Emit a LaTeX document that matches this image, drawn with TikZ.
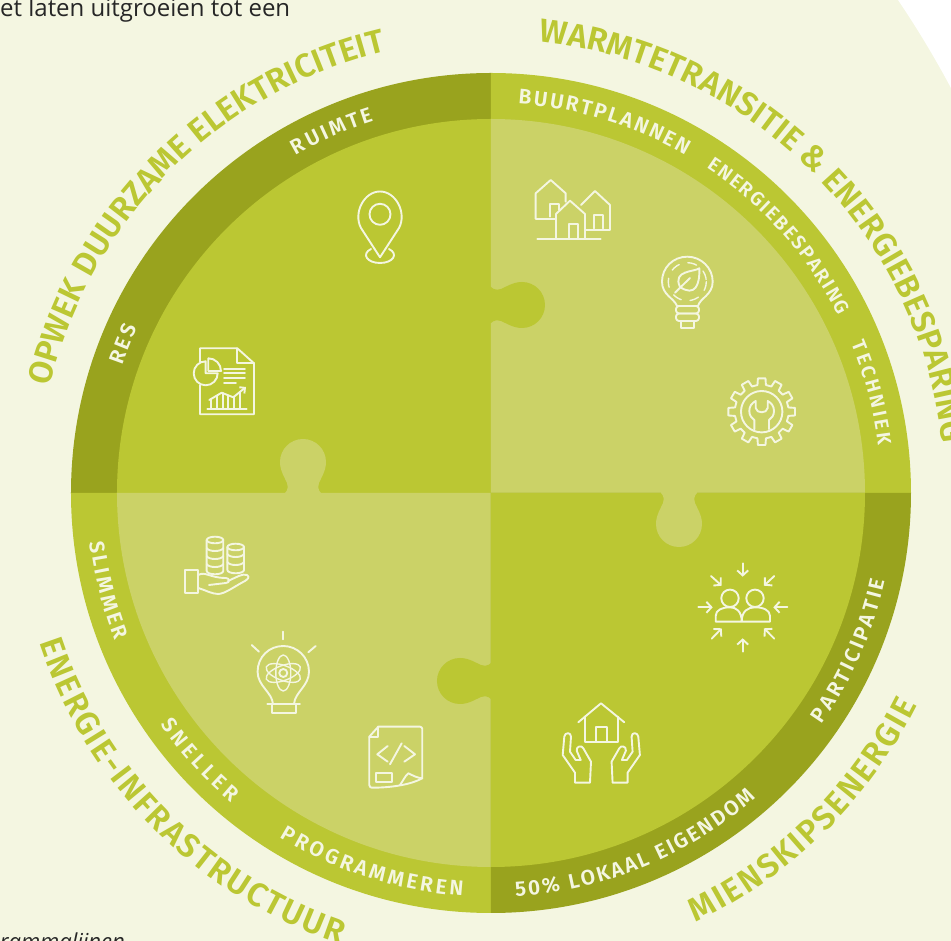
\documentclass[tikz,border=0pt]{standalone}
\usepackage{fontspec}
\usetikzlibrary{arrows.meta,decorations.text}
\setmainfont{Open Sans}
\newfontfamily\dinfont[BoldFont={Fira Sans SemiBold}]{Fira Sans}
\definecolor{pagegreen}{HTML}{F4F6E1}
\definecolor{ringdark}{HTML}{99A31E}
\definecolor{bright}{HTML}{BBC733}
\definecolor{pale}{HTML}{CBD267}
\newcommand{\titlefont}{\dinfont\bfseries\fontsize{33}{33}\selectfont\color{bright}}
\newcommand{\ringfont}{\dinfont\bfseries\fontsize{21}{21}\selectfont\color{pagegreen}}
\newcommand{\smallringfont}{\dinfont\bfseries\fontsize{19.5}{19.5}\selectfont\color{pagegreen}}
\tikzset{
  curved title/.style={decorate,decoration={text along path,text align=fit to path,text={|\titlefont|#1}}},
  curved label/.style={decorate,decoration={text along path,text align=fit to path,text={|\ringfont|#1}}},
  curved small label/.style={decorate,decoration={text along path,text align=fit to path,text={|\smallringfont|#1}}},
  icon/.style={draw=pagegreen,line width=1.9pt,line join=round,line cap=round},
  arrowicon/.style={icon,-{Straight Barb[length=5pt,width=11pt,line width=1.9pt]}},
  pics/knob/.style={code={
    \fill[#1] (-1,18) -- (0,18) .. controls (3,15) and (6,15) .. (10,16)
      .. controls (15,18) and (22,23) .. (31,23) arc[start angle=90,end angle=-90,radius=23]
      .. controls (22,-23) and (15,-18) .. (10,-16) .. controls (6,-15) and (3,-15) .. (0,-18) -- (-1,-18) -- cycle;
  }}
}
\begin{document}
\begin{tikzpicture}[x=1pt,y=1pt]
    \useasboundingbox (-491,-448) rectangle (460,493);
    \clip (-491,-448) rectangle (460,493);
    \fill[pagegreen] (-491,-448) rectangle (460,493);
    \fill[white] (407,493) .. controls (426,465) and (444,435) .. (460,405) -- (460,493) -- cycle;

    \foreach \start/\ringcol/\innercol in {90/ringdark/bright,0/bright/pale,180/bright/pale,270/ringdark/bright}{
        \fill[\ringcol] (0,0) -- (\start:420) arc[start angle=\start,delta angle=90,radius=420] -- cycle;
        \fill[\innercol] (0,0) -- (\start:374) arc[start angle=\start,delta angle=90,radius=374] -- cycle;
    }
    \pic at (0,188) {knob=bright};
    \pic[rotate=90] at (-188,0) {knob=pale};
    \pic[rotate=180] at (0,-188) {knob=bright};
    \pic[rotate=-90] at (188,0) {knob=pale};

    \path[curved title={OPWEK DUURZAME ELEKTRICITEIT}] (166.5:454) arc[start angle=166.5,end angle=104,radius=454];
    \path[curved title={WARMTETRANSITIE {\&} ENERGIEBESPARING}] (84:454) arc[start angle=84,end angle=7,radius=454];
    \path[curved title={ENERGIE-INFRASTRUCTUUR}] (198.3:476) arc[start angle=198.3,end angle=251.5,radius=476];
    \path[curved title={MIENSKIPSENERGIE}] (-64.5:476) arc[start angle=-64.5,end angle=-26.5,radius=476];

    \path[curved label={RUIMTE}] (120:390) arc[start angle=120,end angle=107.5,radius=390];
    \path[curved label={RES}] (161:390) arc[start angle=161,end angle=155,radius=390];
    \path[curved label={BUURTPLANNEN}] (86:390) arc[start angle=86,end angle=60,radius=390];
    \path[curved small label={ENERGIEBESPARING}] (56.5:390) arc[start angle=56.5,end angle=27,radius=390];
    \path[curved small label={TECHNIEK}] (22.5:390) arc[start angle=22.5,end angle=7,radius=390];
    \path[curved label={SLIMMER}] (187:404) arc[start angle=187,end angle=201.5,radius=404];
    \path[curved label={SNELLER}] (215:404) arc[start angle=215,end angle=230,radius=404];
    \path[curved label={PROGRAMMEREN}] (238.5:404) arc[start angle=238.5,end angle=266,radius=404];
    \path[curved label={50{\%} LOKAAL EIGENDOM}] (-86.5:404) arc[start angle=-86.5,end angle=-49,radius=404];
    \path[curved label={PARTICIPATIE}] (-35:404) arc[start angle=-35,end angle=-12.5,radius=404];

    \begin{scope}[shift={(-491,493)},yscale=-1]
    \node[anchor=base west,inner sep=0pt,text=black!85,font=\fontsize{24}{24}\selectfont] (intro) at (0,17) {et laten uitgroeien tot een};
    \node[anchor=base east,inner sep=0pt,text=black!85,font=\itshape\fontsize{22}{22}\selectfont] (caption) at (125,950) {rammalijnen};

    % pin
    \draw[icon] (380,257.3) -- (361,228) .. controls (353,213) and (364,191.5) .. (380,191.5) .. controls (396,191.5) and (407,213) .. (399,228) -- cycle;
    \draw[icon] (380,214.3) circle[radius=10.5];
    \draw[icon] (371,249) .. controls (361,254) and (367,263) .. (380,263) .. controls (393,263) and (399,254) .. (389,249);
    % report
    \draw[icon] (200,361.7) -- (200,348.3) -- (237.3,348.3) -- (254,363.3) -- (254,414.3) -- (200,414.3) -- (200,385);
    \draw[icon] (237.3,348.3) -- (237.3,363.3) -- (254,363.3);
    \draw[icon] (205.7,361.3) arc[start angle=-90,end angle=-360,radius=12] -- (205.7,373.3) -- cycle;
    \draw[icon] (208.3,358.3) -- (208.3,371) -- (221,371) arc[start angle=0,end angle=-90,radius=12.7];
    \foreach \y/\xe in {369/245,373.3/245,378.3/245,383.3/236}
        \draw[icon] (224,\y) -- (\xe,\y);
    \draw[icon] (207.3,408.7) -- (246.7,408.7);
    \draw[icon,-{Straight Barb[length=4pt,width=8pt,line width=1.9pt]}] (209.3,400) -- (221.7,392.7) -- (233.3,397.3) -- (246,387);
    \foreach \x/\y in {211/399,217/395.5,222.7/393,228.3/395.5,234/396.5,240/392}
        \draw[icon] (\x,\y) -- (\x,408.7);
    % houses
    \draw[icon] (555,219) -- (535.7,219) -- (535.7,193.3) -- (550.7,180) -- (565.7,193.3) -- (565.7,201.7);
    \draw[icon] (550,216.7) -- (550,204) -- (559,204) -- (559,210);
    \draw[icon] (556,239) -- (556,214) -- (570,200.7) -- (585,214) -- (585,239);
    \draw[icon] (569.3,239) -- (569.3,224) -- (578.3,224) -- (578.3,239);
    \draw[icon] (581,205) -- (595,191) -- (610,205) -- (610,230) -- (586,230);
    \draw[icon] (594,228.3) -- (594,215) -- (602.7,215) -- (602.7,228.3);
    \draw[icon] (537.3,239) -- (600.7,239);
    % leaf bulb
    \draw[icon] (677,306) .. controls (674,298) and (662,295) .. (662,281.7) .. controls (662,267.7) and (673,256.7) .. (687.3,256.7) .. controls (701,256.7) and (712.7,267.7) .. (712.7,281.7) .. controls (712.7,295) and (700,298) .. (698,306) -- cycle;
    \draw[icon,rounded corners=3pt] (676,306) rectangle (699,313.5);
    \draw[icon,rounded corners=3pt] (676,313.5) rectangle (699,321);
    \draw[icon] (681,321) -- (681,328) -- (694,328) -- (694,321);
    \draw[icon,line width=1.4pt,dash pattern=on 9pt off 9pt] (687.3,281.7) circle[radius=19];
    \draw[icon] (680,287) .. controls (672,270) and (695,272) .. (699.3,268.3) .. controls (700,285) and (695,297) .. (680,287);
    \draw[icon] (675,292.7) -- (690,278);
    % gear
    \begin{scope}[shift={(761.7,411.7)}]
    \draw[icon] (351:27) \foreach \a in {0,30,...,330}{
        -- (\a-9:27) -- (\a-6.5:33.5) -- (\a+6.5:33.5) -- (\a+9:27) arc[start angle=\a+9,end angle=\a+21,radius=27]
    };
    \draw[icon] (0,0) circle[radius=20.7];
    \end{scope}
    \draw[icon] (754.3,429.3) -- (754.3,420) .. controls (752,418) and (749.3,416) .. (749.3,411) .. controls (749.3,406) and (752,403) .. (755.7,401) -- (755.7,408) .. controls (756,411) and (759,412.3) .. (761.7,412.3) .. controls (764.4,412.3) and (767.4,411) .. (767.7,408) -- (767.7,401) .. controls (771.4,403) and (774,406) .. (774,411) .. controls (774,416) and (771.4,418) .. (769,420) -- (769,429.3);
    % people
    \draw[icon] (730,598.3) circle[radius=8.7];
    \draw[icon] (755,598.3) circle[radius=8.7];
    \draw[icon] (741.7,621.7) -- (715.7,621.7) -- (715.7,616) .. controls (715.7,610) and (722,607.3) .. (730,607.3) .. controls (736,607.3) and (741.7,611) .. (741.7,621.7) -- (770,621.7) -- (770,616) .. controls (770,610) and (763,607.3) .. (755,607.3) .. controls (748,607.3) and (741.7,611) .. (741.7,621.7);
    \foreach \xa/\ya/\xb/\yb in {742.7/563.3/742.7/576.7,742.7/651.7/742.7/638.3,698.3/607.3/712.7/607.3,787.3/607.3/773.3/607.3,711/576/721.7/585.7,774.3/576/764/585.7,711.7/638.7/721.7/628.3,774.3/638.7/764/628.3}
        \draw[arrowicon] (\xa,\ya) -- (\xb,\yb);
    % hands and house
    \draw[icon] (578.3,722.3) -- (601,703.3) -- (624.3,722.3);
    \draw[icon] (585.3,716.7) -- (585.3,741.7) -- (617.7,741.7) -- (617.7,716.7);
    \draw[icon] (596,741.7) -- (596,727.3) -- (606.7,727.3) -- (606.7,741.7);
    \foreach \sx/\dx in {1/0,-1/1202.6}{
        \begin{scope}[xshift=\dx,xscale=\sx]
        \draw[icon] (575,782.7) -- (575,772.7) -- (562.7,755) -- (564.3,736.7) .. controls (565,732) and (571,732) .. (571,736.7) -- (570,751.7) -- (575.7,760) -- (580.7,760) -- (576.7,750.7) .. controls (576,746) and (582,745) .. (583.3,748.3) -- (591,761.7) -- (590,782.7) -- cycle;
        \end{scope}
    }
    % coins in hand
    \foreach \cx/\ctop/\cbot/\crx in {215/540/571/8.3,235.7/547/570/8.3}{
        \draw[icon] (\cx,\ctop) ellipse[x radius=\crx,y radius=3.3];
        \draw[icon] (\cx-\crx,\ctop) -- (\cx-\crx,\cbot) arc[start angle=180,end angle=360,x radius=\crx,y radius=-3.3] -- (\cx+\crx,\ctop);
    }
    \foreach \cy in {548,556,564}
        \draw[icon] (206.7,\cy) .. controls (208,\cy+4) and (222,\cy+4) .. (223.3,\cy);
    \foreach \cy in {554,562}
        \draw[icon] (227.4,\cy) .. controls (229,\cy+4) and (242,\cy+4) .. (244,\cy);
    \draw[icon] (185,570) rectangle (198.3,593.3);
    \draw[icon] (198.3,575) .. controls (205,571) and (210,578) .. (226,578) .. controls (230,578) and (230,583) .. (226,583) -- (209,585);
    \draw[icon] (228,581) .. controls (235,578) and (243,573) .. (247,575) .. controls (250,577) and (248,579) .. (245,581) .. controls (235,586) and (225,594) .. (218,594) .. controls (212,594) and (205,590) .. (198.3,588);
    % atom bulb
    \draw[icon] (283.3,631.7) -- (283.3,639.3);
    \draw[icon] (251.7,645) -- (259,651.7);
    \draw[icon] (315.7,646) -- (308.3,652.3);
    \draw[icon] (273,704) .. controls (272,692) and (257.6,686) .. (257.6,671.7) .. controls (257.6,657) and (269,646) .. (283.3,646) .. controls (297,646) and (309,657) .. (309,671.7) .. controls (309,686) and (295,692) .. (294,704);
    \draw[icon] (267.3,704) -- (300,704);
    \draw[icon] (271.7,704) -- (271.7,713.3) -- (296,713.3) -- (296,704);
    \draw[icon] (283.3,673) circle[radius=4];
    \foreach \r in {20,90,160}
        \draw[icon,line width=1.4pt,rotate around={\r:(283.3,673)}] (283.3,673) ellipse[x radius=18,y radius=7.5];
    % code page
    \draw[icon] (378.3,726.7) -- (369.3,736.7) -- (369.3,785) .. controls (369.3,787) and (371,787.7) .. (372,787.7) .. controls (390,787.7) and (410,785) .. (422.3,778.3) -- (422.3,729) .. controls (422.3,727.5) and (421,726.7) .. (420,726.7) -- cycle;
    \draw[icon] (378.3,726.7) -- (378.3,736.7) -- (369.3,736.7);
    \draw[icon] (400,785) .. controls (403,781) and (405,776) .. (408.3,773.3) .. controls (412,775) and (417,778) .. (422.3,778.3);
    \draw[icon] (375.7,773.3) rectangle (391.7,781.7);
    \draw[icon] (387.7,746) -- (377.3,754.3) -- (387.7,761.7);
    \draw[icon] (401.7,743.3) -- (390,764.3);
    \draw[icon] (404.3,746) -- (415,754.3) -- (404.3,761.7);
    \end{scope}
\end{tikzpicture}
\end{document}
